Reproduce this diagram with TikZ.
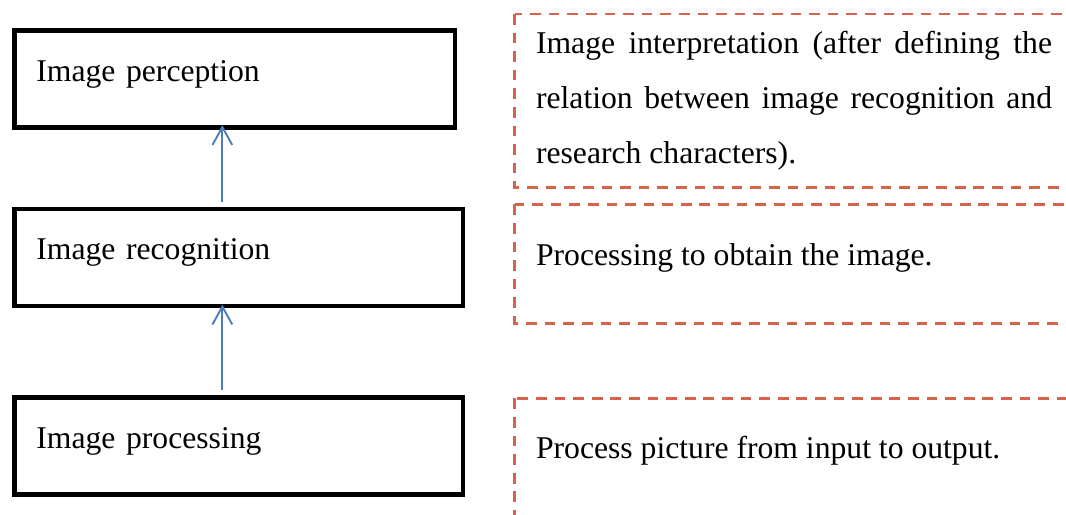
\documentclass[tikz,border=0pt]{standalone}
\usepackage{fontspec}
\setmainfont{Liberation Serif}
\usetikzlibrary{arrows.meta}
\definecolor{noteline}{RGB}{214,100,76}
\definecolor{flowline}{RGB}{74,126,187}
\tikzset{
  every node/.style={font=\fontsize{11.83pt}{20.55pt}\selectfont},
  stage/.style={draw,line width=1.68pt,anchor=north west,align=left,inner xsep=8.22pt,inner ysep=0pt,text height=19.06pt,text depth=17.19pt},
  flow/.style={draw=flowline,line width=0.7pt,-{Straight Barb[length=6.7pt,width=7.4pt]}},
  note/.style={draw=noteline,line width=1.05pt,dash pattern=on 4pt off 2.95pt},
  desc/.style={anchor=base west,inner sep=0pt}
}
\begin{document}
\begin{tikzpicture}
\clip(0,0)rectangle(14,6.7636);
\foreach \n/\y/\w/\t in {percep/6.39/148.15pt/Image perception,recog/4.05/151.25pt/Image recognition,procs/1.57/151.25pt/Image processing}
  \node[stage,text width=\w](\n)at(0.16,\y){\t};
\draw[flow,shorten <=1.9pt,shorten >=-1.8pt]([xshift=2.76cm]recog.north west)--([xshift=2.76cm]percep.south west);
\draw[flow,shorten <=2pt,shorten >=-1.3pt]([xshift=2.76cm]procs.north west)--([xshift=2.76cm]recog.south west);
\foreach \t/\b in {6.58/4.30,4.08/2.52,1.53/-0.3}
  \draw[note](6.76,\t)rectangle(14.3,\b);
\node[desc,text width=192.8pt,align=justify](interp)at(7.033,6.064){Image interpretation (after defining the\linebreak relation between image recognition and\linebreak research characters).};
\node[desc](obtain)at(7.033,3.270){Processing to obtain the image.};
\node[desc](inout)at(7.033,0.745){Process picture from input to output.};
\end{tikzpicture}
\end{document}
